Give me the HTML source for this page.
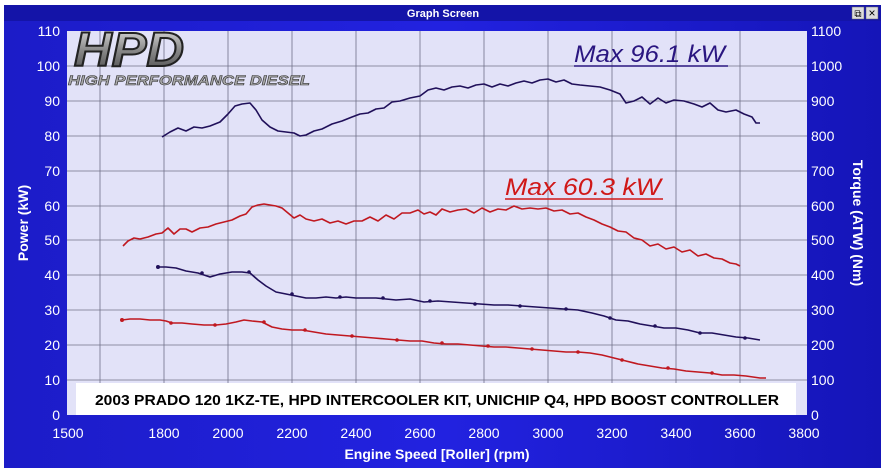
<!DOCTYPE html>
<html><head><meta charset="utf-8"><style>
html,body{margin:0;padding:0;background:#fff;}
svg{display:block;font-family:"Liberation Sans",Arial,sans-serif;}
</style></head><body>
<svg width="887" height="473" viewBox="0 0 887 473">
<defs>
<linearGradient id="bg" x1="0" y1="0" x2="1" y2="0">
<stop offset="0" stop-color="#1c1cc8"/><stop offset="0.5" stop-color="#2222e0"/><stop offset="1" stop-color="#1515b8"/>
</linearGradient>
<linearGradient id="lg" x1="0" y1="0" x2="0" y2="1">
<stop offset="0" stop-color="#e8e8e8"/><stop offset="0.5" stop-color="#888"/><stop offset="1" stop-color="#444"/>
</linearGradient>
</defs>
<rect x="0" y="0" width="887" height="473" fill="#fff"/>
<rect x="4" y="5" width="877" height="463" fill="url(#bg)"/>
<rect x="4" y="5" width="877" height="16" fill="#1414a8"/>
<text x="443" y="17" fill="#fff" font-size="11" font-weight="bold" text-anchor="middle">Graph Screen</text>
<rect x="852" y="7" width="12" height="12" fill="#ddd" stroke="#666" stroke-width="0.5"/>
<rect x="866" y="7" width="12" height="12" fill="#ddd" stroke="#666" stroke-width="0.5"/>
<text x="858" y="17" font-size="10" text-anchor="middle" fill="#000">⧉</text>
<text x="872" y="17" font-size="12" text-anchor="middle" fill="#000">×</text>
<rect x="67" y="31" width="740" height="384" fill="#e2e2f8"/>
<g stroke="#707088" stroke-width="0.8">
<line x1="100" y1="31" x2="100" y2="415"/><line x1="164" y1="31" x2="164" y2="415"/><line x1="228" y1="31" x2="228" y2="415"/><line x1="292" y1="31" x2="292" y2="415"/><line x1="356" y1="31" x2="356" y2="415"/><line x1="420" y1="31" x2="420" y2="415"/><line x1="484" y1="31" x2="484" y2="415"/><line x1="548" y1="31" x2="548" y2="415"/><line x1="612" y1="31" x2="612" y2="415"/><line x1="676" y1="31" x2="676" y2="415"/><line x1="740" y1="31" x2="740" y2="415"/>
<line x1="67" y1="66" x2="807" y2="66"/><line x1="67" y1="101" x2="807" y2="101"/><line x1="67" y1="136" x2="807" y2="136"/><line x1="67" y1="171" x2="807" y2="171"/><line x1="67" y1="206" x2="807" y2="206"/><line x1="67" y1="240" x2="807" y2="240"/><line x1="67" y1="275" x2="807" y2="275"/><line x1="67" y1="310" x2="807" y2="310"/><line x1="67" y1="345" x2="807" y2="345"/><line x1="67" y1="380" x2="807" y2="380"/>
</g>
<g fill="#fff" font-size="14">
<g text-anchor="end">
<text x="60" y="36">110</text><text x="60" y="71">100</text><text x="60" y="106">90</text><text x="60" y="141">80</text><text x="60" y="176">70</text><text x="60" y="211">60</text><text x="60" y="245">50</text><text x="60" y="280">40</text><text x="60" y="315">30</text><text x="60" y="350">20</text><text x="60" y="385">10</text><text x="60" y="420">0</text>
</g>
<g>
<text x="811" y="36">1100</text><text x="811" y="71">1000</text><text x="811" y="106">900</text><text x="811" y="141">800</text><text x="811" y="176">700</text><text x="811" y="211">600</text><text x="811" y="245">500</text><text x="811" y="280">400</text><text x="811" y="315">300</text><text x="811" y="350">200</text><text x="811" y="385">100</text><text x="811" y="420">0</text>
</g>
<g text-anchor="middle">
<text x="68" y="438">1500</text><text x="164" y="438">1800</text><text x="228" y="438">2000</text><text x="292" y="438">2200</text><text x="356" y="438">2400</text><text x="420" y="438">2600</text><text x="484" y="438">2800</text><text x="548" y="438">3000</text><text x="612" y="438">3200</text><text x="676" y="438">3400</text><text x="740" y="438">3600</text><text x="804" y="438">3800</text>
</g>
<text x="437" y="459" text-anchor="middle" font-weight="bold" font-size="14">Engine Speed [Roller] (rpm)</text>
<text transform="translate(28,223) rotate(-90)" text-anchor="middle" font-weight="bold" font-size="14">Power (kW)</text>
<text transform="translate(853,223) rotate(90)" text-anchor="middle" font-weight="bold" font-size="14">Torque (ATW) (Nm)</text>
</g>
<g fill="none" stroke-width="1.6" stroke-linejoin="round">
<polyline stroke="#20105a" points="162,137 170,132 178,128 186,131 194,127 202,128 210,126 220,122 228,114 235,106 242,104 250,103 256,110 262,120 270,127 278,131 286,132 294,133 300,136 306,135 314,131 322,129 332,124 342,121 352,117 360,114 368,113 376,109 384,108 392,102 400,101 410,98 420,96 428,90 436,88 444,90 452,87 460,86 468,88 476,85 484,84 492,87 500,84 508,86 516,83 524,81 532,83 540,80 548,79 556,82 564,80 572,84 580,85 590,86 600,87 610,90 620,94 626,103 634,101 642,97 650,104 658,98 666,103 674,100 684,101 694,104 702,107 710,103 718,110 726,112 736,110 744,114 752,117 756,123 760,123"/>
<polyline stroke="#c01820" points="123,246 128,241 134,238 140,239 148,237 156,234 162,233 168,228 174,234 180,229 186,229 192,232 200,228 208,227 216,224 224,222 232,220 240,216 246,214 252,207 258,205 264,204 270,205 276,206 282,208 288,213 294,218 300,215 306,219 314,221 322,219 330,223 338,221 346,224 354,221 362,221 370,217 378,221 386,215 394,219 402,213 410,213 418,210 424,214 430,212 436,215 442,209 450,212 458,210 466,209 474,213 482,208 490,212 498,209 506,210 514,206 522,209 530,208 538,209 546,208 554,211 562,210 570,214 578,213 586,217 594,220 602,224 610,227 618,231 626,232 634,238 642,240 650,246 658,244 666,249 674,247 682,252 690,250 698,256 706,254 714,258 722,259 730,263 736,264 740,266"/>
<polyline stroke="#20105a" points="158,267 166,267 176,268 186,271 198,273 210,277 220,274 232,272 242,272 250,273 258,280 266,286 276,292 286,294 296,296 306,298 316,298 326,297 336,298 346,297 356,298 366,298 376,298 386,299 396,300 410,299 424,302 438,301 452,302 466,303 480,304 494,305 508,305 522,306 536,307 550,308 564,309 578,310 592,313 604,316 616,320 628,321 640,324 652,326 664,328 676,328 688,330 700,333 712,333 724,335 736,337 748,338 760,340"/>
<polyline stroke="#c01820" points="122,320 130,319 140,319 150,320 160,320 166,321 172,323 182,323 192,324 204,325 216,325 226,324 236,322 244,320 252,321 262,322 272,327 282,329 292,330 302,330 314,332 326,334 338,335 350,336 362,337 374,338 386,339 398,340 410,341 422,341 434,343 446,344 458,344 470,345 482,346 494,347 506,347 518,348 530,349 542,350 554,351 566,352 578,352 590,353 602,355 614,358 626,361 638,364 650,366 662,368 674,369 686,371 698,372 710,373 722,375 734,375 746,376 760,378 766,378"/>
</g>
<g fill="#20105a"><circle cx="158" cy="267" r="2"/><circle cx="202" cy="273" r="1.8"/><circle cx="249" cy="272" r="1.8"/><circle cx="292" cy="294" r="1.8"/><circle cx="340" cy="297" r="1.8"/><circle cx="383" cy="298" r="1.8"/><circle cx="430" cy="301" r="1.8"/><circle cx="475" cy="304" r="1.8"/><circle cx="520" cy="306" r="1.8"/><circle cx="566" cy="309" r="1.8"/><circle cx="610" cy="318" r="1.8"/><circle cx="655" cy="326" r="1.8"/><circle cx="700" cy="333" r="1.8"/><circle cx="745" cy="338" r="1.8"/></g>
<g fill="#c01820"><circle cx="122" cy="320" r="2"/><circle cx="171" cy="323" r="1.8"/><circle cx="215" cy="325" r="1.8"/><circle cx="264" cy="322" r="1.8"/><circle cx="305" cy="330" r="1.8"/><circle cx="352" cy="336" r="1.8"/><circle cx="397" cy="340" r="1.8"/><circle cx="442" cy="343" r="1.8"/><circle cx="488" cy="346" r="1.8"/><circle cx="532" cy="349" r="1.8"/><circle cx="578" cy="352" r="1.8"/><circle cx="622" cy="360" r="1.8"/><circle cx="668" cy="368" r="1.8"/><circle cx="712" cy="373" r="1.8"/></g>
<text x="574" y="62" fill="#2a1680" font-size="24" font-style="italic" textLength="151" lengthAdjust="spacingAndGlyphs">Max 96.1 kW</text>
<line x1="574" y1="66" x2="728" y2="66" stroke="#2a1680" stroke-width="1.6"/>
<text x="505" y="195" fill="#d01818" font-size="24" font-style="italic" textLength="156" lengthAdjust="spacingAndGlyphs">Max 60.3 kW</text>
<line x1="505" y1="199" x2="663" y2="199" stroke="#d01818" stroke-width="1.6"/>
<text x="74" y="66" font-size="48" font-weight="bold" font-style="italic" fill="url(#lg)" stroke="#222" stroke-width="2" textLength="110" lengthAdjust="spacingAndGlyphs">HPD</text>
<text x="68" y="85" font-size="14" font-weight="bold" font-style="italic" fill="#aaa" stroke="#333" stroke-width="0.6" textLength="242" lengthAdjust="spacingAndGlyphs">HIGH PERFORMANCE DIESEL</text>
<rect x="76" y="383" width="720" height="32" fill="#fff"/>
<text x="437" y="405" text-anchor="middle" font-size="15" font-weight="bold" fill="#000" textLength="684" lengthAdjust="spacingAndGlyphs">2003 PRADO 120 1KZ-TE, HPD INTERCOOLER KIT, UNICHIP Q4, HPD BOOST CONTROLLER</text>
</svg>
</body></html>
